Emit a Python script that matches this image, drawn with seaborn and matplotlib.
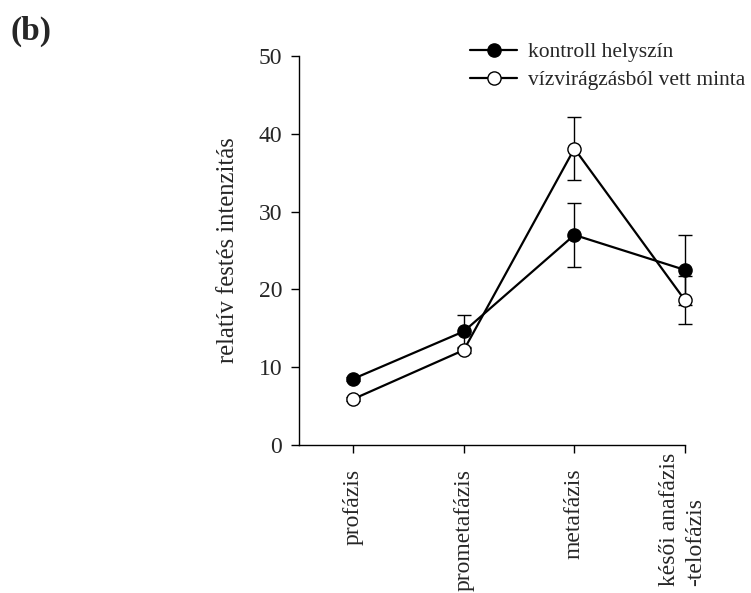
import matplotlib
matplotlib.use("Agg")
import matplotlib.pyplot as plt
import matplotlib.transforms as mtransforms
import seaborn as sns
import pandas as pd
import numpy as np
from matplotlib.lines import Line2D

categories = ["profázis", "prometafázis", "metafázis", "késői anafázis\n-telofázis"]
series_names = ["kontroll helyszín", "vízvirágzásból vett minta"]
kontroll = [8.5, 14.6, 27.0, 22.5]
kontroll_err = [0.3, 2.1, 4.1, 4.5]
viz = [5.9, 12.2, 38.1, 18.6]
viz_err = [0.3, 0.4, 4.1, 3.1]
yticks = [0, 10, 20, 30, 40, 50]

sns.set_style("ticks")
plt.rcParams["font.family"] = ["Liberation Serif", "DejaVu Serif"]

df = pd.DataFrame({
    "x": list(range(len(categories))) * 2,
    "érték": kontroll + viz,
    "minta": [series_names[0]] * 4 + [series_names[1]] * 4,
})

fig = plt.figure(figsize=(7.51, 5.93), dpi=100)
ax = fig.add_axes([299 / 751, 1 - 445 / 593, (685 - 299) / 751, (445 - 56) / 593])

xs = np.arange(len(categories))
for vals, errs in [(kontroll, kontroll_err), (viz, viz_err)]:
    eb = ax.errorbar(xs, vals, yerr=errs, fmt="none", ecolor="black",
                     elinewidth=1.0, capsize=5.0, capthick=1.0, zorder=1)
    for art in eb.lines[1] + eb.lines[2]:
        art.set_clip_on(False)

sns.lineplot(data=df, x="x", y="érték", hue="minta", style="minta",
             markers={series_names[0]: "o", series_names[1]: "o"},
             dashes=False, palette={series_names[0]: "black", series_names[1]: "black"},
             linewidth=1.6, markersize=9.5, ax=ax, legend=False, zorder=3)
for line, face in zip(ax.get_lines()[-2:], ["black", "white"]):
    line.set_markerfacecolor(face)
    line.set_markeredgecolor("black")
    line.set_markeredgewidth(1.0)
    line.set_clip_on(False)

ax.set_xlim(-0.49, 3.0)
ax.set_ylim(0, 50)
ax.set_yticks(yticks)
ax.set_yticklabels([str(t) for t in yticks], fontsize=17)
ax.set_xticks(xs)
ax.set_xticklabels(categories, rotation=90, fontsize=17, va="top", ha="center",
                   multialignment="left", linespacing=1.3)
ax.set_xlabel("")
ax.set_ylabel("relatív festés intenzitás", fontsize=17.7, labelpad=14)
ax.tick_params(axis="both", direction="out", length=6, width=1.0, color="black", pad=6)
ax.tick_params(axis="x", pad=11)
sns.despine(ax=ax)
for s in ["left", "bottom"]:
    ax.spines[s].set_linewidth(1.0)
    ax.spines[s].set_color("black")

last = ax.get_xticklabels()[-1]
last.set_transform(last.get_transform() +
                   mtransforms.ScaledTranslation(-0.025, 0.16, fig.dpi_scale_trans))

handles = [
    Line2D([], [], color="black", lw=1.6, marker="o", markersize=9.5,
           markerfacecolor="black", markeredgecolor="black"),
    Line2D([], [], color="black", lw=1.6, marker="o", markersize=9.5,
           markerfacecolor="white", markeredgecolor="black"),
]
fig.legend(handles, series_names, loc="upper left",
           bbox_to_anchor=(470 / 751, 1 - 42 / 593), frameon=False,
           fontsize=15.5, handlelength=2.2, handletextpad=0.5,
           labelspacing=0.38, borderaxespad=0, borderpad=0)

fig.text(10 / 751, 1 - 31 / 593, "(b)", fontsize=24, fontweight="bold",
         va="center", ha="left")

fig.savefig("out.png", dpi=100)
